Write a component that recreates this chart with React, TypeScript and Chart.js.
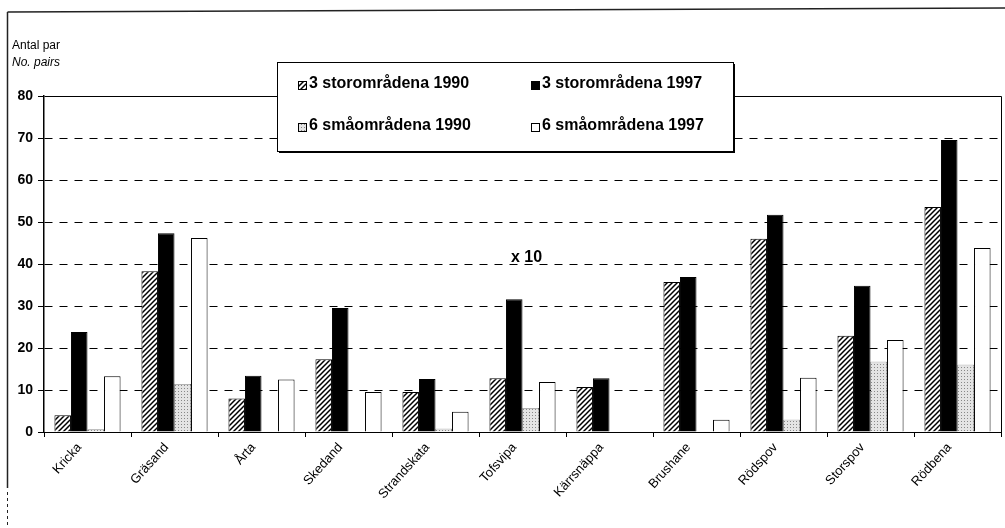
import React, { useEffect, useRef } from "react";
import { Chart, registerables } from "chart.js";

Chart.register(...registerables);

const categories = [
  "Kricka",
  "Gräsand",
  "Årta",
  "Skedand",
  "Strandskata",
  "Tofsvipa",
  "Kärrsnäppa",
  "Brushane",
  "Rödspov",
  "Storspov",
  "Rödbena",
];

const seriesNames = [
  "3 storområdena 1990",
  "3 storområdena 1997",
  "6 småområdena 1990",
  "6 småområdena 1997",
];

const stor1990 = [4, 38.3, 8, 17.3, 9.5, 12.8, 10.7, 35.7, 46, 22.9, 53.6];
const stor1997 = [23.8, 47.3, 13.4, 29.5, 12.6, 31.6, 12.8, 36.9, 51.7, 34.8, 69.5];
const sma1990 = [0.6, 11.4, 0, 0, 0.8, 5.7, 0, 0, 2.9, 16.7, 16];
const sma1997 = [13.3, 46.2, 12.5, 9.5, 4.8, 11.9, 0, 2.9, 12.9, 21.9, 43.8];

const yTicks = [0, 10, 20, 30, 40, 50, 60, 70, 80];
const yTitle1 = "Antal par";
const yTitle2 = "No. pairs";
const note = "x 10";

const FONT = "'Liberation Sans', Arial, sans-serif";

function makeHatch(): CanvasPattern | string {
  const s = 5;
  const c = document.createElement("canvas");
  c.width = s;
  c.height = s;
  const g = c.getContext("2d");
  if (!g) return "#777";
  g.fillStyle = "#fff";
  g.fillRect(0, 0, s, s);
  g.strokeStyle = "#000";
  g.lineWidth = 1.5;
  g.beginPath();
  g.moveTo(-1, s + 1);
  g.lineTo(s + 1, -1);
  g.moveTo(-1, 1);
  g.lineTo(1, -1);
  g.moveTo(s - 1, s + 1);
  g.lineTo(s + 1, s - 1);
  g.stroke();
  return g.createPattern(c, "repeat") || "#777";
}

function makeDots(): CanvasPattern | string {
  const c = document.createElement("canvas");
  c.width = 3;
  c.height = 3;
  const g = c.getContext("2d");
  if (!g) return "#ddd";
  g.fillStyle = "#e4e4e4";
  g.fillRect(0, 0, 3, 3);
  g.fillStyle = "#888";
  g.fillRect(1, 1, 1, 1);
  return g.createPattern(c, "repeat") || "#ddd";
}

export default function App() {
  const ref = useRef<HTMLCanvasElement | null>(null);

  useEffect(() => {
    const canvas = ref.current;
    if (!canvas) return;
    const hatch = makeHatch();
    const dots = makeDots();
    const fills: any[] = [hatch, "#000", dots, "#fff"];

    const framePlugin = {
      id: "frame",
      afterDatasetsDraw(chart: any) {
        const { ctx, chartArea } = chart;
        ctx.save();
        ctx.strokeStyle = "#000";
        ctx.lineWidth = 1;
        ctx.beginPath();
        ctx.moveTo(Math.round(chartArea.left) + 0.5, Math.round(chartArea.top) + 0.5);
        ctx.lineTo(Math.round(chartArea.right) + 0.5, Math.round(chartArea.top) + 0.5);
        ctx.lineTo(Math.round(chartArea.right) + 0.5, Math.round(chartArea.bottom) + 0.5);
        ctx.stroke();
        ctx.restore();
      },
      afterDraw(chart: any) {
        const { ctx } = chart;
        ctx.save();
        // page frame
        ctx.strokeStyle = "#222";
        ctx.lineWidth = 1.5;
        ctx.beginPath();
        ctx.moveTo(7.5, 12);
        ctx.lineTo(1005, 8);
        ctx.moveTo(7.5, 12);
        ctx.lineTo(7.5, 488);
        ctx.stroke();
        ctx.setLineDash([3, 3]);
        ctx.lineWidth = 1;
        ctx.beginPath();
        ctx.moveTo(7.5, 492);
        ctx.lineTo(7.5, 528);
        ctx.stroke();
        ctx.setLineDash([]);

        // axis titles
        ctx.fillStyle = "#000";
        ctx.textBaseline = "alphabetic";
        ctx.textAlign = "left";
        ctx.font = `12px ${FONT}`;
        ctx.fillText(yTitle1, 12, 49);
        ctx.font = `italic 12px ${FONT}`;
        ctx.fillText(yTitle2, 12, 66);

        // x 10 note
        ctx.font = `bold 16px ${FONT}`;
        ctx.textBaseline = "middle";
        ctx.fillText(note, 511, 258);

        // legend box
        const bx = 277, by = 62, bw = 456, bh = 89;
        ctx.fillStyle = "#000";
        ctx.fillRect(bx + 2, by + 2, bw, bh);
        ctx.fillStyle = "#fff";
        ctx.fillRect(bx, by, bw, bh);
        ctx.strokeStyle = "#000";
        ctx.lineWidth = 1;
        ctx.strokeRect(bx + 0.5, by + 0.5, bw, bh);

        const pos = [
          [298, 84],
          [531, 84],
          [298, 126],
          [531, 126],
        ];
        ctx.font = `bold 16px ${FONT}`;
        ctx.textBaseline = "middle";
        for (let i = 0; i < 4; i++) {
          const [mx, my] = pos[i];
          ctx.fillStyle = fills[i];
          ctx.fillRect(mx, my - 3, 9, 9);
          ctx.strokeStyle = "#000";
          ctx.strokeRect(mx + 0.5, my - 2.5, 8, 8);
          ctx.fillStyle = "#000";
          ctx.fillText(seriesNames[i], mx + 11, my);
        }
        ctx.restore();
      },
    };

    const datasets = [stor1990, stor1997, sma1990, sma1997].map((d, i) => ({
      label: seriesNames[i],
      data: d,
      backgroundColor: fills[i],
      borderColor: "#000",
      borderWidth: i === 2 ? 0.5 : 1,
      borderSkipped: "bottom" as const,
    }));

    const chart = new Chart(canvas, {
      type: "bar",
      data: { labels: categories, datasets },
      plugins: [framePlugin],
      options: {
        animation: false,
        responsive: false,
        maintainAspectRatio: false,
        layout: { padding: { top: 96, right: 4, left: 0, bottom: 0 } },
        plugins: {
          legend: { display: false },
          tooltip: { enabled: false },
          title: { display: false },
        },
        datasets: {
          bar: { categoryPercentage: 0.76, barPercentage: 1.0 },
        },
        scales: {
          x: {
            offset: true,
            grid: {
              offset: true,
              drawOnChartArea: false,
              drawTicks: true,
              tickLength: 5,
              tickColor: "#000",
              color: "#000",
            },
            border: { display: true, color: "#000", width: 1 },
            ticks: {
              autoSkip: false,
              maxRotation: 48,
              minRotation: 48,
              labelOffset: -8,
              padding: 3,
              color: "#000",
              font: { family: FONT, size: 13 },
            },
            afterFit(scale: any) {
              scale.height = 96;
            },
          },
          y: {
            min: 0,
            max: 80,
            afterBuildTicks(scale: any) {
              scale.ticks = yTicks.map((v) => ({ value: v }));
            },
            grid: {
              color: (ctx: any) =>
                ctx.tick && (ctx.tick.value === 0 || ctx.tick.value === 80)
                  ? "rgba(0,0,0,0)"
                  : "#000",
              lineWidth: 1,
              drawTicks: true,
              tickLength: 6,
              tickColor: "#000",
              tickBorderDash: [],
            },
            border: { display: true, color: "#000", width: 1.5, dash: [8, 7] },
            ticks: {
              color: "#000",
              padding: 5,
              font: { family: FONT, size: 14, weight: "bold" },
            },
            afterFit(scale: any) {
              scale.width = 44;
            },
          },
        },
      },
    } as any);

    return () => {
      chart.destroy();
    };
  }, []);

  return (
    <div
      style={{
        position: "absolute",
        left: 0,
        top: 0,
        width: 1005,
        height: 528,
        background: "#fff",
      }}
    >
      <canvas ref={ref} width={1005} height={528} style={{ display: "block" }} />
    </div>
  );
}
